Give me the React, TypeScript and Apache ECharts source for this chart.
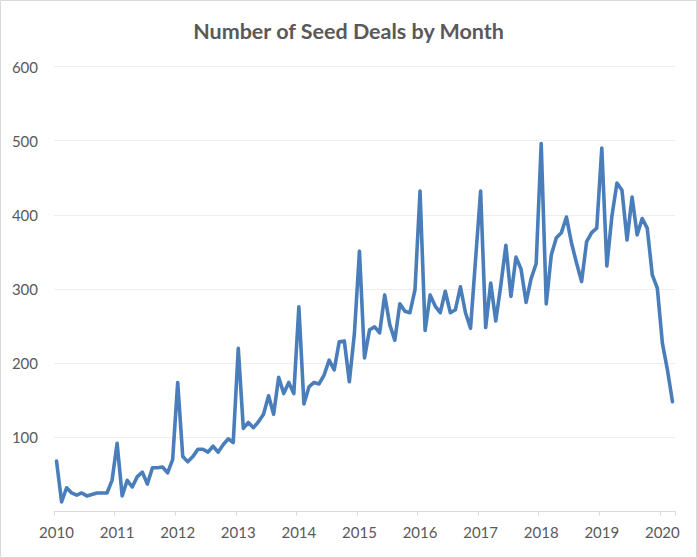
import React, { useEffect, useRef } from 'react';
import * as echarts from 'echarts';

// monthly seed deal counts, Jan 2010 .. Mar 2020
const years = ['2010', '2011', '2012', '2013', '2014', '2015', '2016', '2017', '2018', '2019', '2020'];
const monthNames = ['01', '02', '03', '04', '05', '06', '07', '08', '09', '10', '11', '12'];

const deals2010 = [68, 13, 32, 25, 22, 25, 21, 23, 25, 25, 25, 42];
const deals2011 = [92, 21, 42, 33, 47, 53, 37, 59, 59, 60, 52, 70];
const deals2012 = [174, 74, 67, 74, 84, 84, 80, 88, 80, 90, 98, 93];
const deals2013 = [220, 112, 120, 113, 121, 131, 156, 131, 181, 159, 174, 159];
const deals2014 = [276, 145, 168, 174, 172, 184, 204, 191, 229, 230, 175, 240];
const deals2015 = [351, 207, 245, 249, 241, 292, 252, 231, 280, 270, 268, 299];
const deals2016 = [432, 244, 292, 277, 268, 297, 268, 272, 303, 268, 247, 340];
const deals2017 = [432, 248, 308, 257, 305, 359, 290, 343, 327, 282, 314, 334];
const deals2018 = [496, 280, 346, 369, 376, 397, 362, 335, 310, 364, 376, 382];
const deals2019 = [490, 331, 398, 443, 433, 366, 424, 373, 395, 382, 319, 301];
const deals2020 = [227, 191, 148];

const dealsByYear = [
  deals2010, deals2011, deals2012, deals2013, deals2014, deals2015,
  deals2016, deals2017, deals2018, deals2019, deals2020,
];

const months: string[] = [];
const deals: number[] = [];
dealsByYear.forEach((arr, yi) => {
  arr.forEach((v, mi) => {
    months.push(`${years[yi]}-${monthNames[mi]}`);
    deals.push(v);
  });
});

const TEXT = '#595959';
const AXIS = '#d9d9d9';

export default function App() {
  const chartRef = useRef<HTMLDivElement>(null);

  useEffect(() => {
    if (!chartRef.current) return;
    const chart = echarts.init(chartRef.current, undefined, { renderer: 'svg' });

    const option: echarts.EChartsOption = {
      animation: false,
      backgroundColor: '#ffffff',
      title: {
        text: 'Number of Seed Deals by Month',
        left: 'center',
        top: 15,
        textStyle: {
          color: TEXT,
          fontSize: 21.5,
          fontWeight: 'bold',
          fontFamily: 'Lato',
        },
      },
      graphic: [
        {
          type: 'rect',
          shape: { x: 0.5, y: 0.5, width: 696, height: 557 },
          style: { fill: 'none', stroke: AXIS, lineWidth: 1 },
          silent: true,
        },
      ],
      grid: {
        left: 54,
        right: 22,
        top: 66.5,
        bottom: 46.5,
        containLabel: false,
      },
      xAxis: {
        type: 'category',
        data: months,
        boundaryGap: true,
        axisLine: { lineStyle: { color: AXIS, width: 1 } },
        axisTick: {
          show: true,
          length: 4,
          interval: (i: number) => i % 12 === 0,
          lineStyle: { color: AXIS },
        },
        axisLabel: {
          interval: (i: number) => i % 12 === 0,
          formatter: (v: string) => v.slice(0, 4),
          color: TEXT,
          fontSize: 15,
          fontFamily: 'Lato',
          margin: 13,
        },
        splitLine: { show: false },
      },
      yAxis: {
        type: 'value',
        min: 0,
        max: 600,
        interval: 100,
        axisLine: { show: false },
        axisTick: { show: false },
        axisLabel: {
          formatter: (v: number) => (v === 0 ? '' : String(v)),
          color: TEXT,
          fontSize: 15,
          fontFamily: 'Lato',
          margin: 16,
        },
        splitLine: { lineStyle: { color: '#eeeeee', width: 1 } },
      },
      series: [
        {
          name: 'Seed deals',
          type: 'line',
          data: deals,
          symbol: 'none',
          smooth: false,
          lineStyle: { color: '#4a7ebb', width: 3.6, join: 'round', cap: 'round' },
          z: 3,
        },
      ],
    };

    chart.setOption(option);
    return () => {
      chart.dispose();
    };
  }, []);

  return (
    <div style={{ position: 'fixed', left: 0, top: 0, width: 697, height: 558, background: '#fff' }}>
      <div ref={chartRef} style={{ width: '697px', height: '558px' }} />
    </div>
  );
}
